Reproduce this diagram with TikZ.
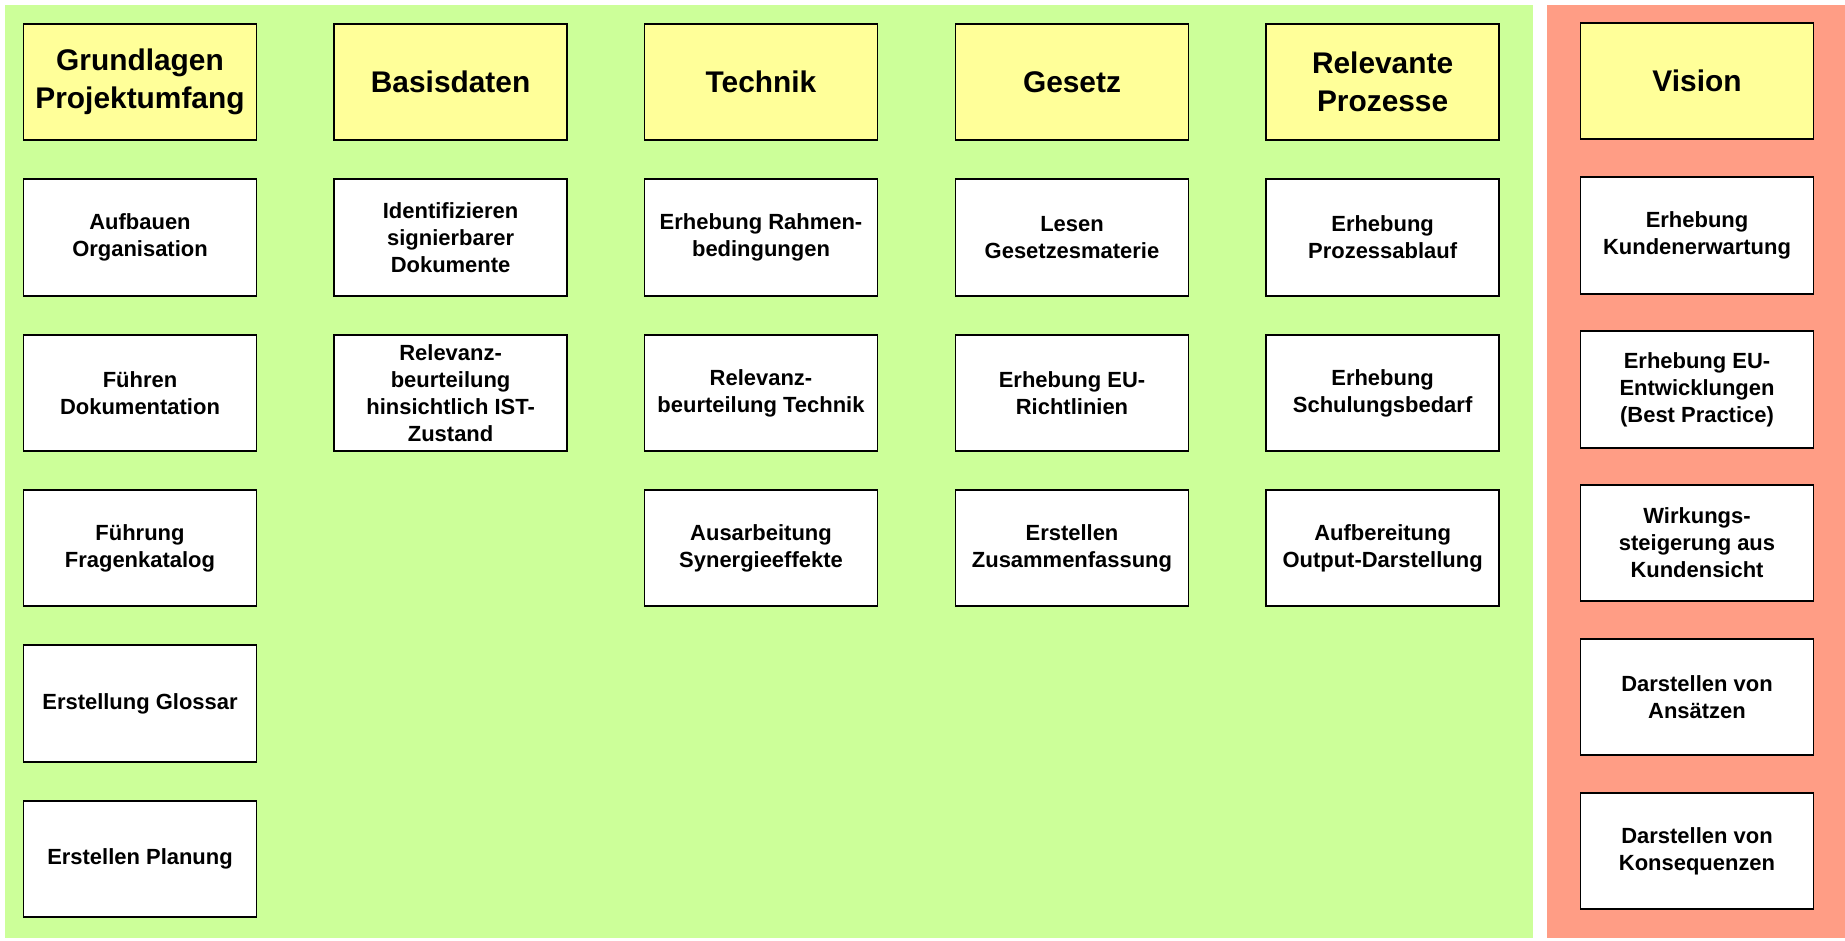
\documentclass[tikz,border=0pt]{standalone}
\usepackage{fontspec}
\setmainfont{Liberation Sans}
\definecolor{panelgruen}{RGB}{204,255,153}
\definecolor{panelrot}{RGB}{255,157,133}
\definecolor{kopfgelb}{RGB}{255,255,153}
\tikzset{
    kasten/.style={draw=black, line width=0.9pt, fill=white, minimum width=4.66cm, minimum height=2.33cm,
        align=center, inner sep=2pt, font=\bfseries\fontsize{12.5}{15.3}\selectfont},
    kopf/.style={kasten, fill=kopfgelb, font=\bfseries\fontsize{17}{21.5}\selectfont}
}
\begin{document}
\begin{tikzpicture}[x=0.02cm, y=-0.02cm]
    \useasboundingbox (0,0) rectangle (1845,940);

    % Step 1: Hintergrundflächen
    \fill[panelgruen] (5,5) rectangle (1533,938);
    \fill[panelrot] (1547,5) rectangle (1845,938);

    % Step 2: Grundlagen Projektumfang
    \node[kopf]   (g0) at (140,82)    {Grundlagen\\Projektumfang};
    \node[kasten] (g1) at (140,237.5) {Aufbauen\\Organisation};
    \node[kasten] (g2) at (140,393)   {Führen\\Dokumentation};
    \node[kasten] (g3) at (140,548)   {Führung\\Fragenkatalog};
    \node[kasten] (g4) at (140,703.5) {Erstellung Glossar};
    \node[kasten] (g5) at (140,859)   {Erstellen Planung};

    % Step 3: Basisdaten
    \node[kopf]   (b0) at (450.6,82)    {Basisdaten};
    \node[kasten] (b1) at (450.6,237.5) {Identifizieren\\signierbarer\\Dokumente};
    \node[kasten] (b2) at (450.6,393)   {Relevanz-\\beurteilung\\hinsichtlich IST-\\Zustand};

    % Step 4: Technik
    \node[kopf]   (t0) at (761,82)    {Technik};
    \node[kasten] (t1) at (761,237.5) {Erhebung Rahmen-\\bedingungen};
    \node[kasten] (t2) at (761,393)   {Relevanz-\\beurteilung Technik};
    \node[kasten] (t3) at (761,548)   {Ausarbeitung\\Synergieeffekte};

    % Step 5: Gesetz
    \node[kopf]   (s0) at (1072,82)    {Gesetz};
    \node[kasten] (s1) at (1072,237.5) {Lesen\\Gesetzesmaterie};
    \node[kasten] (s2) at (1072,393)   {Erhebung EU-\\Richtlinien};
    \node[kasten] (s3) at (1072,548)   {Erstellen\\Zusammenfassung};

    % Step 6: Relevante Prozesse
    \node[kopf]   (p0) at (1382.6,82)    {Relevante\\Prozesse};
    \node[kasten] (p1) at (1382.6,237.5) {Erhebung\\Prozessablauf};
    \node[kasten] (p2) at (1382.6,393)   {Erhebung\\Schulungsbedarf};
    \node[kasten] (p3) at (1382.6,548)   {Aufbereitung\\Output-Darstellung};

    % Step 7: Vision (eigene Fläche, etwas engerer Zeilenabstand)
    \node[kopf]   (v0) at (1697,81)    {Vision};
    \node[kasten] (v1) at (1697,235.5) {Erhebung\\Kundenerwartung};
    \node[kasten] (v2) at (1697,389.5) {Erhebung EU-\\Entwicklungen\\(Best Practice)};
    \node[kasten] (v3) at (1697,543)   {Wirkungs-\\steigerung aus\\Kundensicht};
    \node[kasten] (v4) at (1697,697)   {Darstellen von\\Ansätzen};
    \node[kasten] (v5) at (1697,851)   {Darstellen von\\Konsequenzen};

\end{tikzpicture}
\end{document}
